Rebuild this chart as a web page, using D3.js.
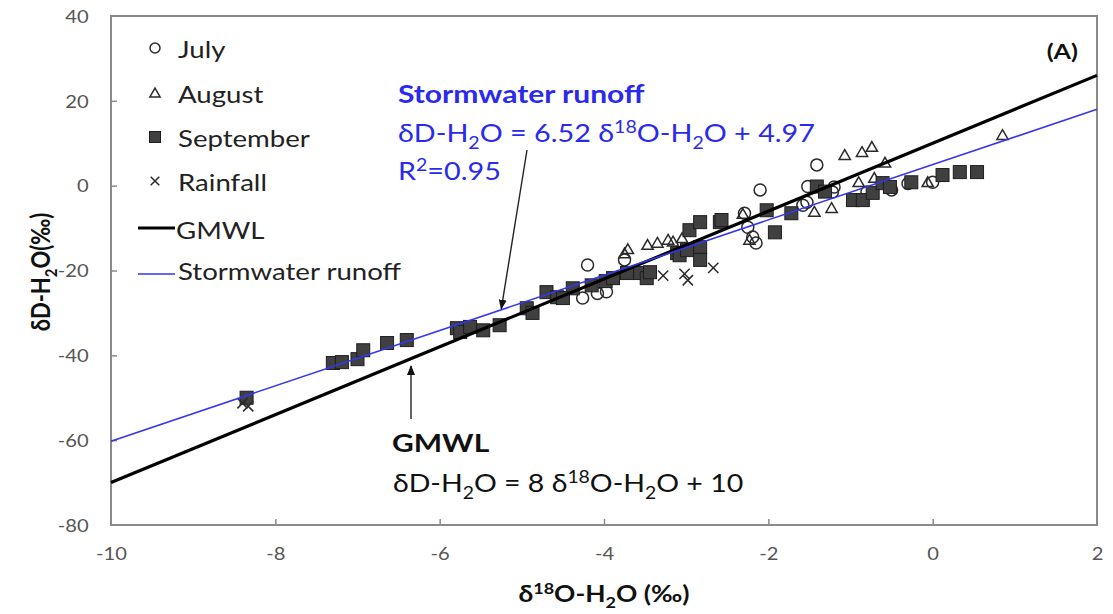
<!DOCTYPE html>
<html>
<head>
<meta charset="utf-8">
<script src="https://cdn.jsdelivr.net/npm/d3@7"></script>
<style>
  html, body { margin: 0; padding: 0; background: #fff; }
  svg { display: block; }
</style>
</head>
<body>
<svg id="chart" width="1113" height="614"></svg>
<script>
// δ18O / δD isotope values (‰) by sampling group
const july = [
  [-4.2, -18.7], [-3.75, -17.5], [-4.26, -26.5], [-4.08, -25.4], [-3.97, -25.0],
  [-2.1, -1.0], [-2.29, -6.5], [-2.25, -9.8], [-2.19, -12.1], [-2.15, -13.5],
  [-1.41, 4.9], [-1.52, -0.2], [-1.53, -3.9], [-1.58, -4.6], [-1.2, -0.3],
  [-1.22, -1.5], [-0.8, -1.5], [-0.5, -1.0], [-0.3, 0.5], [0.0, 0.8]
];
const august = [
  [-3.71, -15.0], [-3.75, -16.0], [-3.47, -14.0], [-3.35, -13.5], [-3.22, -12.8],
  [-3.16, -13.2], [-3.05, -12.4], [-2.31, -6.7], [-2.23, -12.8], [-1.44, -6.2],
  [-1.23, -5.3], [-1.07, 7.2], [-0.86, 7.9], [-0.74, 9.1], [-0.58, 5.4],
  [-0.71, 1.8], [-0.9, 0.8], [-0.06, 0.8], [0.85, 11.9]
];
const september = [
  [-8.35, -50.0],
  [-7.3, -41.8], [-7.19, -41.6], [-7.0, -40.9], [-6.93, -38.8], [-6.64, -37.1], [-6.4, -36.4],
  [-5.79, -33.6], [-5.75, -34.5], [-5.63, -33.3], [-5.47, -34.1], [-5.27, -32.9],
  [-4.94, -28.9], [-4.87, -30.0], [-4.70, -25.1], [-4.57, -26.3], [-4.38, -24.2], [-4.5, -26.5],
  [-4.15, -23.5], [-3.98, -22.5], [-3.89, -21.8], [-3.72, -20.6], [-3.56, -20.6], [-3.48, -21.8],
  [-3.44, -20.4], [-3.11, -15.9], [-3.08, -16.4], [-2.99, -15.2], [-2.96, -10.5], [-2.83, -8.6],
  [-2.83, -14.5], [-2.83, -17.5], [-2.59, -8.6], [-2.57, -8.1], [-2.02, -5.8], [-1.92, -11.0],
  [-1.72, -6.5], [-1.41, -0.2], [-1.31, -1.4], [-0.97, -3.4], [-0.85, -3.4], [-0.73, -1.7],
  [-0.61, 0.6], [-0.52, -0.3], [-0.26, 0.8], [0.12, 2.5], [0.33, 3.2], [0.54, 3.2]
];
const rainfall = [
  [-8.4, -51.3], [-8.33, -52.0], [-3.28, -21.2], [-3.02, -20.8], [-2.98, -22.3], [-2.67, -19.4]
];

// regression lines: [slope, intercept]
const gmwl = [8, 10];
const runoffFit = [6.52, 4.97];

const xTicks = [-10, -8, -6, -4, -2, 0, 2];
const yTicks = [-80, -60, -40, -20, 0, 20, 40];

const FONT = "Lato, 'Open Sans', sans-serif";
const SX = 1.2; // horizontal text stretch

const svg = d3.select("#chart");
const x = d3.scaleLinear().domain([-10, 2]).range([111, 1097]);
const y = d3.scaleLinear().domain([-80, 40]).range([525, 16]);

// arrowhead
svg.append("defs").append("marker")
  .attr("id", "arrow").attr("viewBox", "0 0 10 10")
  .attr("refX", 9).attr("refY", 5)
  .attr("markerWidth", 10).attr("markerHeight", 10)
  .attr("markerUnits", "userSpaceOnUse")
  .attr("orient", "auto")
  .append("path").attr("d", "M0,1 L10,5 L0,9 Z").attr("fill", "#111");

// text with sub/superscripts, stretched horizontally
function richText(parent, px, py, segs, size, opts = {}) {
  const t = parent.append("text")
    .attr("transform", `translate(${px},${py}) scale(${opts.sx || SX},1)`)
    .attr("font-family", FONT)
    .attr("font-size", size)
    .attr("font-weight", opts.bold ? 700 : 400)
    .attr("fill", opts.color || "#111")
    .attr("text-anchor", opts.anchor || "start");
  let shift = 0;
  segs.forEach(s => {
    const str = typeof s === "string" ? s : s.t;
    const kind = typeof s === "string" ? null : s.k;
    let target = 0;
    if (kind === "sub") target = size * 0.28;
    if (kind === "sup") target = -size * 0.36;
    const ts = t.append("tspan").text(str).attr("dy", target - shift);
    shift = target;
    if (kind) ts.attr("font-size", size * 0.68);
  });
  return t;
}

// frame
svg.append("rect")
  .attr("x", x(-10)).attr("y", y(40))
  .attr("width", x(2) - x(-10)).attr("height", y(-80) - y(40))
  .attr("fill", "none").attr("stroke", "#8a8a8a").attr("stroke-width", 2);

// ticks (inside) and labels
const fmt = d => String(d);
const xAxis = d3.axisBottom(x).tickValues(xTicks).tickSize(-6).tickPadding(30).tickFormat(fmt);
const gx = svg.append("g").attr("transform", `translate(0,${y(-80)})`).call(xAxis);
const yAxis = d3.axisLeft(y).tickValues(yTicks).tickSize(-6).tickPadding(22).tickFormat(fmt);
const gy = svg.append("g").attr("transform", `translate(${x(-10)},0)`).call(yAxis);
[gx, gy].forEach(g => {
  g.select(".domain").remove();
  g.selectAll(".tick line").attr("stroke", "#8a8a8a").attr("stroke-width", 1.5);
  g.selectAll(".tick text")
    .attr("font-family", FONT).attr("font-size", 18).attr("fill", "#555")
    .attr("transform", "scale(1.12,1)");
});
gx.selectAll(".tick text").attr("dy", "0.3em");
gy.selectAll(".tick text").attr("dy", "0.35em").attr("x", -20);
gx.selectAll(".tick").filter(d => d === -10 || d === 2).select("line").remove();
gy.selectAll(".tick").filter(d => d === -80 || d === 40).select("line").remove();

// data markers
const plot = svg.append("g");
const markStroke = "#2a2a2a";
plot.selectAll(".jul").data(july).join("circle")
  .attr("cx", d => x(d[0])).attr("cy", d => y(d[1])).attr("r", 6)
  .attr("fill", "none").attr("stroke", markStroke).attr("stroke-width", 1.5);
const tri = d3.symbol().type(d3.symbolTriangle).size(55);
plot.selectAll(".aug").data(august).join("path")
  .attr("d", tri).attr("transform", d => `translate(${x(d[0])},${y(d[1]) + 1})`)
  .attr("fill", "none").attr("stroke", markStroke).attr("stroke-width", 1.5);
plot.selectAll(".sep").data(september).join("rect")
  .attr("x", d => x(d[0]) - 6.5).attr("y", d => y(d[1]) - 6.5)
  .attr("width", 13).attr("height", 13)
  .attr("fill", "#404040").attr("stroke", "#1e1e1e").attr("stroke-width", 1);
const cross = d3.symbol().type(d3.symbolX).size(70);
plot.selectAll(".rain").data(rainfall).join("path")
  .attr("d", cross).attr("transform", d => `translate(${x(d[0])},${y(d[1])})`)
  .attr("fill", "none").attr("stroke", "#2a2a2a").attr("stroke-width", 1.5);

// fitted lines
const line = d3.line().x(d => x(d[0])).y(d => y(d[1]));
const lineData = (f) => x.domain().map(v => [v, f[0] * v + f[1]]);
plot.append("path").attr("d", line(lineData(gmwl)))
  .attr("fill", "none").attr("stroke", "#000").attr("stroke-width", 3.2);
plot.append("path").attr("d", line(lineData(runoffFit)))
  .attr("fill", "none").attr("stroke", "#3535f2").attr("stroke-width", 1.6);

// legend
const leg = svg.append("g");
const legItems = [
  { label: "July", y: 55, kind: "circle" },
  { label: "August", y: 100, kind: "tri" },
  { label: "September", y: 144, kind: "square" },
  { label: "Rainfall", y: 188, kind: "cross" }
];
legItems.forEach(it => {
  const mx = 155, my = it.y - 7;
  if (it.kind === "circle") leg.append("circle").attr("cx", mx).attr("cy", my).attr("r", 5)
    .attr("fill", "none").attr("stroke", markStroke).attr("stroke-width", 1.5);
  if (it.kind === "tri") leg.append("path").attr("d", d3.symbol().type(d3.symbolTriangle).size(45))
    .attr("transform", `translate(${mx},${my + 1})`).attr("fill", "none").attr("stroke", markStroke).attr("stroke-width", 1.5);
  if (it.kind === "square") leg.append("rect").attr("x", mx - 5.5).attr("y", my - 5.5).attr("width", 11).attr("height", 11)
    .attr("fill", "#404040").attr("stroke", "#1e1e1e");
  if (it.kind === "cross") leg.append("path").attr("d", d3.symbol().type(d3.symbolX).size(50))
    .attr("transform", `translate(${mx},${my})`).attr("fill", "none").attr("stroke", "#2a2a2a").attr("stroke-width", 1.5);
  richText(leg, 178, it.y + 3, [it.label], 23, { color: "#222" });
});
leg.append("line").attr("x1", 138).attr("x2", 175).attr("y1", 228).attr("y2", 228)
  .attr("stroke", "#000").attr("stroke-width", 3.2);
richText(leg, 176, 239, ["GMWL"], 23, { color: "#222" });
leg.append("line").attr("x1", 138).attr("x2", 175).attr("y1", 274).attr("y2", 274)
  .attr("stroke", "#3535f2").attr("stroke-width", 1.6);
richText(leg, 178, 280, ["Stormwater runoff"], 23, { color: "#222" });

// panel tag
richText(svg, 1078, 59, ["(A)"], 21, { bold: true, anchor: "end" });

// stormwater annotation
const blue = "#2a2aee";
richText(svg, 398, 103, ["Stormwater runoff"], 25, { bold: true, color: blue });
richText(svg, 398, 142, ["δD-H", { t: "2", k: "sub" }, "O = 6.52 δ", { t: "18", k: "sup" },
  "O-H", { t: "2", k: "sub" }, "O + 4.97"], 25, { color: blue, sx: 1.15 });
richText(svg, 398, 180, ["R", { t: "2", k: "sup" }, "=0.95"], 25, { color: blue, sx: 1.15 });
svg.append("line")
  .attr("x1", 527).attr("y1", 150)
  .attr("x2", x(-5.25)).attr("y2", y(runoffFit[0] * -5.25 + runoffFit[1]) - 1)
  .attr("stroke", "#222").attr("stroke-width", 1.4).attr("marker-end", "url(#arrow)");

// GMWL annotation
richText(svg, 392, 452, ["GMWL"], 25, { bold: true, color: "#111" });
richText(svg, 393, 492, ["δD-H", { t: "2", k: "sub" }, "O = 8 δ", { t: "18", k: "sup" },
  "O-H", { t: "2", k: "sub" }, "O + 10"], 25, { color: "#111", sx: 1.14 });
svg.append("line")
  .attr("x1", 411).attr("y1", 419).attr("x2", 411).attr("y2", 366)
  .attr("stroke", "#222").attr("stroke-width", 1.4).attr("marker-end", "url(#arrow)");

// axis titles
richText(svg, 604, 602, ["δ", { t: "18", k: "sup" }, "O-H", { t: "2", k: "sub" }, "O (‰)"], 22,
  { bold: true, anchor: "middle" });
const yt = richText(svg, 0, 0, ["δD-H", { t: "2", k: "sub" }, "O(‰)"], 22,
  { bold: true, anchor: "middle", sx: 1 });
yt.attr("transform", "translate(50,272) rotate(-90) scale(1,1.2)");
</script>
</body>
</html>
